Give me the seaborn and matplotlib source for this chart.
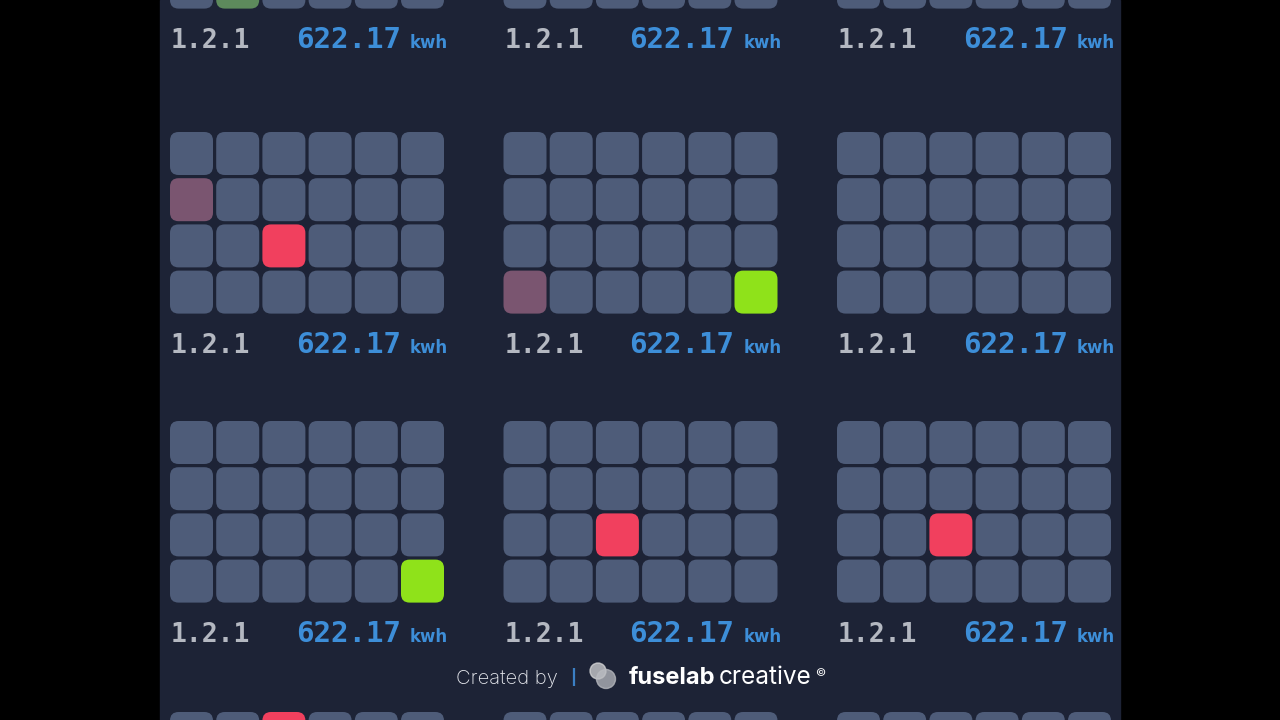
import pandas as pd
import matplotlib
matplotlib.use("Agg")
import matplotlib.pyplot as plt
import matplotlib.patches as mpatches
import seaborn as sns

# Paneļu stāvokļi: 4 rindas x 6 šūnas katrā panelī
# '.' normāls, 'R' trauksme, 'G' kārtībā, 'r' / 'g' izbalējis stāvoklis
band_0 = [
    ["......", "......", "......", ".g...."],
    ["......", "......", "......", "......"],
    ["......", "......", "......", "......"],
]
band_1 = [
    ["......", "r.....", "..R...", "......"],
    ["......", "......", "......", "r....G"],
    ["......", "......", "......", "......"],
]
band_2 = [
    ["......", "......", "......", ".....G"],
    ["......", "......", "..R...", "......"],
    ["......", "......", "..R...", "......"],
]
band_3 = [
    ["..R...", "......", "......", "......"],
    ["......", "......", "......", "......"],
    ["......", "......", "......", "......"],
]
bands = [band_0, band_1, band_2, band_3]

# paraksti redzami tikai pirmajām trim joslām
meter_ids = [["1.2.1", "1.2.1", "1.2.1"]] * 3
readings = [[622.17, 622.17, 622.17]] * 3
unit = "kwh"

# Izkārtojums (pikseļos)
band_top = [-173, 132, 421, 712]
col_left = [170, 503.5, 837]
pitch = 46.2
tile = 43

navy = "#1d2336"
state_colors = {
    ".": "#4e5c79",
    "R": "#f1405e",
    "G": "#8fe21a",
    "r": "#7a5570",
    "g": "#5d8a5c",
}

rows = []
for b, band in enumerate(bands):
    for p, panel in enumerate(band):
        for r, line in enumerate(panel):
            for c, ch in enumerate(line):
                rows.append({
                    "x": col_left[p] + c * pitch + tile / 2,
                    "y": band_top[b] + r * pitch + tile / 2,
                    "state": ch,
                })
tiles = pd.DataFrame(rows)

sns.set_theme(style="white")
plt.rcParams["font.family"] = ["DejaVu Sans"]

fig = plt.figure(figsize=(12.8, 7.2), dpi=100, facecolor="black")
ax = fig.add_axes([0, 0, 1, 1])
ax.set_facecolor("black")

panel_bg = mpatches.Rectangle((160, 0), 960, 720, color=navy, zorder=0)
ax.add_patch(panel_bg)

# noapaļots kvadrāts kā marķieris
tile_marker = mpatches.FancyBboxPatch(
    (-1, -1), 2, 2, boxstyle="round,pad=0,rounding_size=0.4").get_path()

sns.scatterplot(data=tiles, x="x", y="y", hue="state", palette=state_colors,
                marker=tile_marker, s=(tile * 0.72) ** 2, linewidth=0,
                legend=False, ax=ax, zorder=2)

for b in range(len(meter_ids)):
    base = band_top[b] + 221
    for p in range(3):
        x0 = col_left[p]
        t1 = ax.text(x0 + 1, base, meter_ids[b][p], color="#b4b8c1",
                     fontsize=19, fontweight="bold", family="DejaVu Sans Mono",
                     va="baseline", ha="left", zorder=3)
        t2 = ax.text(x0 + 126, base, f"{readings[b][p]:.2f}", color="#3d8ed8",
                     fontsize=21, fontweight="bold", family="DejaVu Sans Mono",
                     va="baseline", ha="left", zorder=3)
        t3 = ax.text(x0 + 240, base, unit, color="#3d8ed8",
                     fontsize=12, fontweight="bold", family="DejaVu Sans",
                     va="baseline", ha="left", zorder=3)
        for t in (t1, t2, t3):
            t.set_clip_path(panel_bg)

# autora josla apakšā
ax.text(456, 684, "Created by", color="#e6e8ee", fontsize=14.5,
        family=["Inter", "DejaVu Sans"], fontweight="light",
        va="baseline", ha="left", zorder=4)
ax.vlines(574, 668, 686, color="#3b7fc4", linewidth=1.6, zorder=4)
ax.add_patch(mpatches.Circle((598, 671), 8, color="#e0e0e0", alpha=0.7, zorder=4))
ax.add_patch(mpatches.Circle((606, 679), 9.5, color="#b9bbc0", alpha=0.75, zorder=4))
ax.text(629, 684, "fuselab", color="white", fontsize=17,
        family=["Inter", "DejaVu Sans"], fontweight="bold",
        va="baseline", ha="left", zorder=4)
ax.text(719, 684, "creative", color="white", fontsize=17.5,
        family=["Inter", "DejaVu Sans"], fontweight="normal",
        va="baseline", ha="left", zorder=4)
ax.text(815, 676, "©", color="white", fontsize=8,
        family=["Inter", "DejaVu Sans"], va="baseline", ha="left", zorder=4)

ax.set_xlim(0, 1280)
ax.set_ylim(720, 0)
ax.axis("off")

fig.savefig("out.png", dpi=100, facecolor="black")
